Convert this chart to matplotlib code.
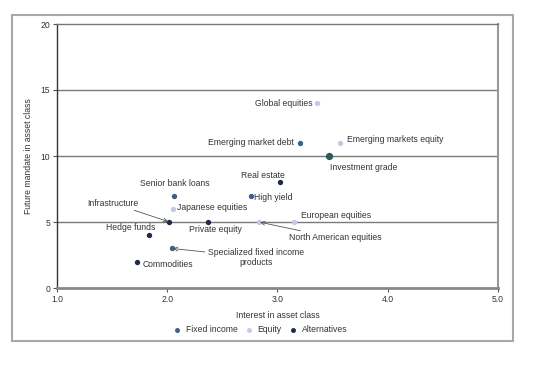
import matplotlib
matplotlib.use("Agg")
import matplotlib.pyplot as plt
from matplotlib.patches import Rectangle

plt.rcParams['font.family'] = ['Liberation Sans', 'DejaVu Sans']

# data: nomi, qiziqish (x), mandat (y)
fixed_names = ["Emerging market debt", "High yield", "Senior bank loans",
               "Specialized fixed income\nproducts"]
fixed_x = [3.20, 2.76, 2.06, 2.04]
fixed_y = [11, 7, 7, 3]

ig_name = "Investment grade"
ig_x = [3.47]
ig_y = [10]

equity_names = ["Global equities", "Emerging markets equity", "Japanese equities",
                "North American equities", "European equities"]
equity_x = [3.36, 3.57, 2.05, 2.83, 3.15]
equity_y = [14, 11, 6, 5, 5]

alt_names = ["Real estate", "Infrastructure", "Private equity", "Hedge funds", "Commodities"]
alt_x = [3.02, 2.02, 2.37, 1.83, 1.73]
alt_y = [8, 5, 5, 4, 2]

c_fixed = "#3e5f8c"
c_equity = "#c3c9e6"
c_alt = "#1d2b50"
c_ig = "#2e5d59"
txt = "#333333"

fig = plt.figure(figsize=(5.45, 3.73), dpi=100)
ax = fig.add_axes([57/545, 1-288/373, (498-57)/545, (288-24)/373])

# tashqi ramka
fig.patches.append(Rectangle((12/545, 1-341/373), (513-12)/545, (341-15)/373,
                             transform=fig.transFigure, fill=False,
                             edgecolor="#a8a8a8", linewidth=1.5))

for y in [5, 10, 15]:
    ax.axhline(y, color="#7a7a7a", linewidth=1.0, zorder=1)

ax.scatter(fixed_x, fixed_y, s=8, color=c_fixed, zorder=3, label="Fixed income")
ax.scatter(equity_x, equity_y, s=8, color=c_equity, zorder=3, label="Equity")
ax.scatter(alt_x, alt_y, s=8, color=c_alt, zorder=3, label="Alternatives")
ax.scatter(ig_x, ig_y, s=18, color=c_ig, zorder=4)

fs = 6.2
def lab(name, x, y, dx, dy, ha="left", arrow=False):
    kw = {}
    if arrow:
        kw["arrowprops"] = dict(arrowstyle="->", color="#555555", lw=0.6,
                                shrinkA=0, shrinkB=1, mutation_scale=7)
    ax.annotate(name, (x, y), xytext=(dx, dy), textcoords="offset pixels",
                ha=ha, va="center", fontsize=fs, color=txt, **kw)

# fixed income
lab(fixed_names[0], fixed_x[0], fixed_y[0], -6, 0, "right")
lab(fixed_names[1], fixed_x[1], fixed_y[1], 3, -2)
lab(fixed_names[2], fixed_x[2], fixed_y[2], 1, 12, "center")
lab(fixed_names[3], fixed_x[3], fixed_y[3], 84, -9, "center", arrow=True)
lab(ig_name, ig_x[0], ig_y[0], 1, -11)

# equity
lab(equity_names[0], equity_x[0], equity_y[0], -5, 0, "right")
lab(equity_names[1], equity_x[1], equity_y[1], 7, 3)
lab(equity_names[2], equity_x[2], equity_y[2], 4, 1)
lab(equity_names[3], equity_x[3], equity_y[3], 30, -16, arrow=True)
lab(equity_names[4], equity_x[4], equity_y[4], 7, 6)

# alternatives
lab(alt_names[0], alt_x[0], alt_y[0], -17, 7, "center")
lab(alt_names[1], alt_x[1], alt_y[1], -57, 19, "center", arrow=True)
lab(alt_names[2], alt_x[2], alt_y[2], 7, -8, "center")
lab(alt_names[3], alt_x[3], alt_y[3], -18, 8, "center")
lab(alt_names[4], alt_x[4], alt_y[4], 30, -3, "center")

ax.set_xlim(1, 5)
ax.set_ylim(0, 20)
ax.set_xticks([1, 2, 3, 4, 5])
ax.set_xticklabels(["1.0", "2.0", "3.0", "4.0", "5.0"])
ax.set_yticks([0, 5, 10, 15, 20])
ax.tick_params(axis="both", labelsize=fs, colors="#555555", labelcolor=txt,
               length=3, width=0.8)
ax.tick_params(axis="x", pad=2)
ax.tick_params(axis="y", pad=2)

ax.spines["left"].set_color("#333333")
ax.spines["left"].set_linewidth(1.0)
ax.spines["bottom"].set_color("#888888")
ax.spines["bottom"].set_linewidth(2.0)
ax.spines["top"].set_color("#777777")
ax.spines["top"].set_linewidth(1.0)
ax.spines["right"].set_color("#999999")
ax.spines["right"].set_linewidth(1.5)

ax.set_xlabel("Interest in asset class", fontsize=fs, color=txt, labelpad=5)
ax.set_ylabel("Future mandate in asset class", fontsize=fs, color=txt, labelpad=5)

fig.legend(loc="center", bbox_to_anchor=(258/545, 1-330/373), ncol=3,
           frameon=False, fontsize=fs, handletextpad=0.0, columnspacing=0.3,
           markerscale=0.9, labelcolor=txt)

plt.savefig("out.png", dpi=100)
